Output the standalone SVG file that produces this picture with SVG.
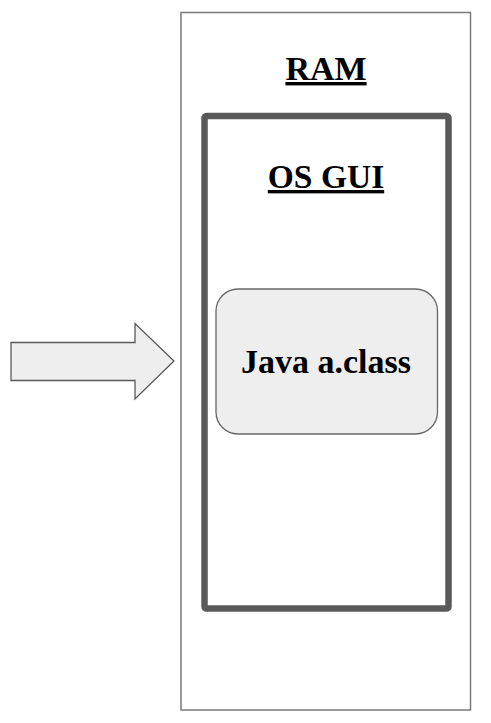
<svg xmlns="http://www.w3.org/2000/svg" width="491" height="723" viewBox="0 0 491 723">
<style>
.t{font-family:"Liberation Serif","Times New Roman",serif;font-weight:bold;fill:#000;text-anchor:middle}
.u{text-decoration:underline}
</style>
<rect width="491" height="723" fill="#fff"/>
<g id="ram">
<rect x="181" y="12.5" width="289.5" height="697.5" fill="#fff" stroke="#7a7a7a" stroke-width="1.5"/>
<text class="t u" x="326" y="80" font-size="34">RAM</text>
</g>
<g id="osgui">
<rect x="204.5" y="116" width="244" height="492.5" rx="2" fill="none" stroke="#595959" stroke-width="6.5"/>
<text class="t u" x="326" y="188" font-size="33.5">OS GUI</text>
</g>
<g id="java">
<rect x="216" y="289" width="221.5" height="145" rx="22" fill="#eeeeee" stroke="#666" stroke-width="1.3"/>
<text class="t" x="326" y="373" font-size="34">Java a.class</text>
</g>
<g id="connectors">
<polygon points="11,342.5 135,342.5 135,323.5 174,361 135,399 135,380.5 11,380.5" fill="#eeeeee" stroke="#595959" stroke-width="1.3" stroke-linejoin="miter"/>
</g>
</svg>
